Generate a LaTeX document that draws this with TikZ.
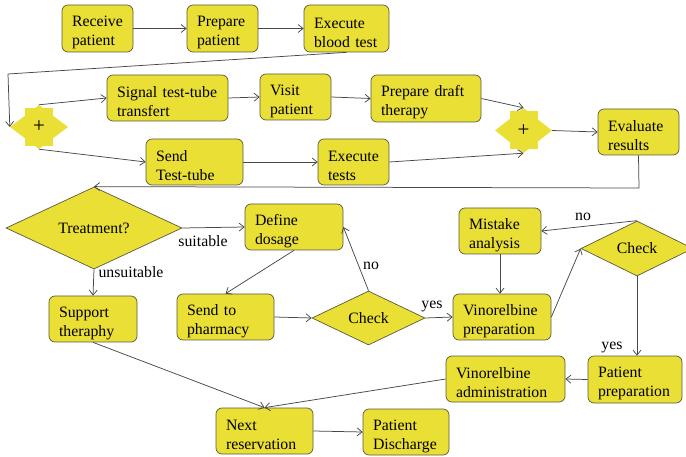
\documentclass[tikz,border=0pt]{standalone}
\usepackage{fontspec}
\setmainfont{Liberation Serif}
\usetikzlibrary{arrows.meta,shapes.geometric,calc}
\definecolor{ylw}{RGB}{234,223,52}
\definecolor{bordc}{RGB}{92,90,62}
\definecolor{linec}{RGB}{72,72,72}
\newcommand{\boxfont}{\fontsize{15.8}{19}\selectfont}
\tikzset{
  box/.style={draw=bordc, fill=ylw, rounded corners=6pt, line width=0.7pt,
    align=left, inner xsep=10pt, inner ysep=0pt, font=\boxfont,
    text height=19pt},
  dia/.style={diamond, draw=bordc, fill=ylw, line width=0.7pt, inner sep=0pt,
    font=\boxfont},
  gate/.style={diamond, fill=ylw, inner sep=0pt, minimum width=58pt,
    minimum height=44pt, font=\fontsize{21}{21}\selectfont},
  lbl/.style={font=\boxfont, inner sep=0pt},
  conn/.style={draw=linec, line width=0.75pt,
    -{Straight Barb[length=5pt,width=8pt]}}
}
\begin{document}
\begin{tikzpicture}[x=1pt,y=-1pt]
\useasboundingbox (0,0) rectangle (686,457);

% first row
\node[box, text width=51pt, minimum height=47pt] (recv) at (97.5,28.5) {Receive\\patient};
\node[box, text width=51pt, minimum height=47pt] (prep) at (222.5,28.5) {Prepare\\patient};
\node[box, text width=65pt, minimum height=47pt] (blood) at (346.5,28.5) {Execute\\blood test};

% parallel branches
\coordinate (g1c) at (39,127);
\fill[ylw] ($(g1c)+(-14,-19)$) rectangle ($(g1c)+(14,19)$);
\node[gate] (g1) at (g1c) {+};

\node[box, text width=101pt, minimum height=46pt] (signal) at (167.5,98) {Signal test-tube\\transfert};
\node[box, text width=51pt, minimum height=46pt] (visit) at (295.5,97) {Visit\\patient};
\node[box, text width=90pt, minimum height=47pt] (draft) at (426,98.5) {Prepare draft\\therapy};
\node[box, text width=77pt, minimum height=46pt] (send) at (194.5,162) {Send\\Test-tube};
\node[box, text width=51pt, minimum height=46pt] (tests) at (353.5,162) {Execute\\tests};

\coordinate (g2c) at (523.5,130.5);
\fill[ylw] ($(g2c)+(-14,-19)$) rectangle ($(g2c)+(14,19)$);
\node[gate, minimum width=57pt, minimum height=45pt] (g2) at (g2c) {+};

\node[box, text width=61pt, minimum height=46pt] (eval) at (638.5,132) {Evaluate\\results};

% treatment decision
\node[dia, minimum width=176pt, minimum height=54pt] (treat) at (94,228) {Treatment?};
\node[box, text width=78pt, minimum height=46pt] (dosage) at (294,227) {Define\\dosage};
\node[box, text width=68pt, minimum height=46pt] (support) at (93,319) {Support\\theraphy};
\node[box, text width=77pt, minimum height=46pt] (pharm) at (225.5,317) {Send to\\pharmacy};
\node[dia, minimum width=113pt, minimum height=54pt] (check1) at (368.5,318) {Check};
\node[box, text width=62pt, minimum height=46pt] (mistake) at (500,231) {Mistake\\analysis};
\node[box, text width=78pt, minimum height=46pt] (vprep) at (502,317) {Vinorelbine\\preparation};
\node[dia, minimum width=112pt, minimum height=55pt] (check2) at (637,248.5) {Check};

% final part
\node[box, text width=74pt, minimum height=47pt] (pprep) at (635,379.5) {Patient\\preparation};
\node[box, text width=99pt, minimum height=46pt] (vadmin) at (505.5,379) {Vinorelbine\\administration};
\node[box, text width=77pt, minimum height=46pt] (nextres) at (264.5,431) {Next\\reservation};
\node[box, text width=66pt, minimum height=46pt] (disch) at (406,432) {Patient\\Discharge};

% connectors
\coordinate (bendA) at (8,74);
\coordinate (bendB) at (639,188);

\draw[conn] (recv.east) -- (prep.west);
\draw[conn] (prep.east) -- (blood.west);
\draw[conn] (blood.south) -- (bendA) -- (g1.west);
\draw[conn] (g1.north) -- (signal.west);
\draw[conn] (g1.south) -- (send.west);
\draw[conn] (signal.east) -- (visit.west);
\draw[conn] (visit.east) -- (draft.west);
\draw[conn] (send.east) -- (tests.west);
\draw[conn] (draft.east) -- (g2.north);
\draw[conn] (tests.east) -- (g2.south);
\draw[conn] (g2.east) -- (eval.west);
\draw[conn] (eval.south) -- (bendB) -- (treat.north);

\draw[conn] (treat.east) -- (dosage.west);
\node[lbl] (lsuit) at (203,241) {suitable};
\draw[conn] (treat.south) -- (support.north);
\node[lbl] (lunsuit) at (131,272) {unsuitable};
\draw[conn] (dosage.south) -- (pharm.north);
\draw[conn] (pharm.east) -- (check1.west);
\draw[conn] (check1.north) -- (dosage.east);
\node[lbl] (lno1) at (371,266) {no};
\draw[conn] (check1.east) -- (vprep.west);
\node[lbl] (lyes1) at (432,306) {yes};
\draw[conn] (vprep.east) -- (check2.west);
\draw[conn] (check2.north) -- (mistake.east);
\node[lbl] (lno2) at (583,217) {no};
\draw[conn] (mistake.south) -- (mistake.south |- vprep.north);
\draw[conn] (check2.south) -- (check2.south |- pprep.north);
\node[lbl] (lyes2) at (612,347) {yes};

\draw[conn] (pprep.west) -- (vadmin.east);
\draw[conn] (vadmin.west) -- (nextres.north);
\draw[conn] (support.south) -- (nextres.north);
\draw[conn] (nextres.east) -- (disch.west);
\end{tikzpicture}
\end{document}
